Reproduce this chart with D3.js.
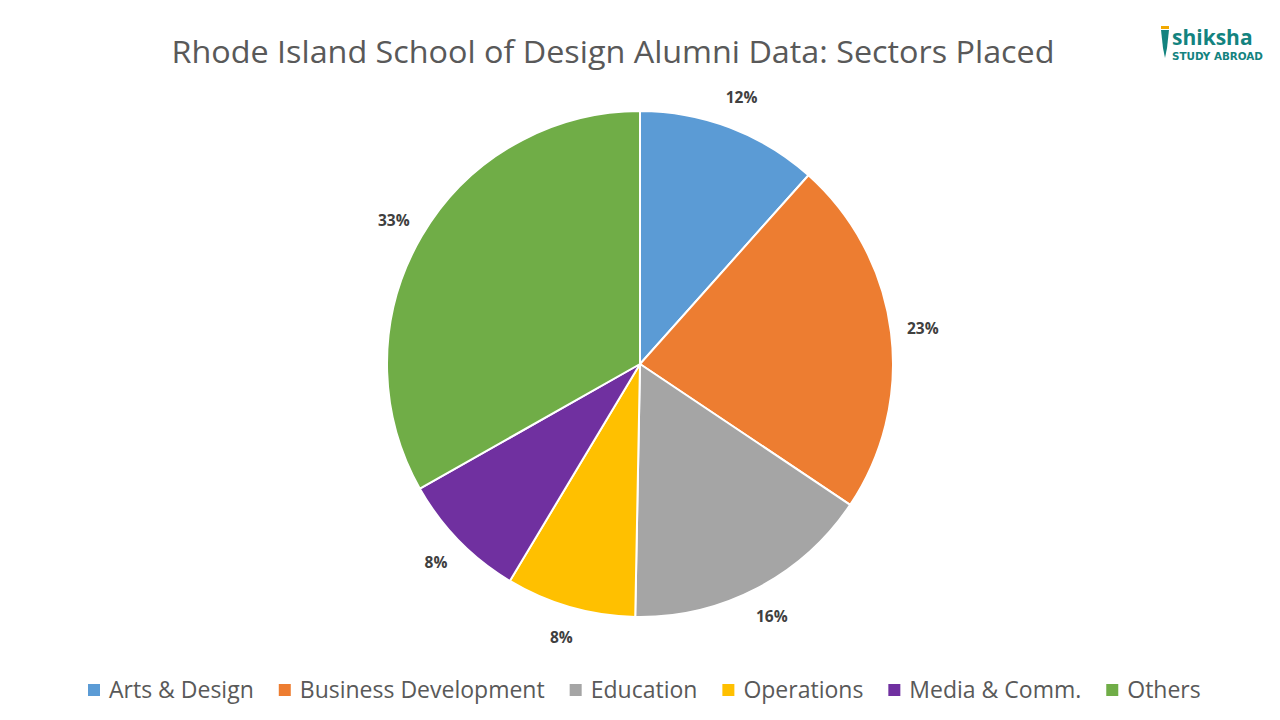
<!DOCTYPE html>
<html><head><meta charset="utf-8">
<script src="https://cdn.jsdelivr.net/npm/d3@7"></script>
<style>body{margin:0;background:#fff}</style>
</head><body><div id="root"></div>
<script>
var categories = ["Arts & Design", "Business Development", "Education", "Operations", "Media & Comm.", "Others"];
var values = [11.6, 22.8, 15.9, 8.3, 8.2, 33.2];
var labels = ["12%", "23%", "16%", "8%", "8%", "33%"];
var colors = ["#5b9bd5", "#ed7d31", "#a5a5a5", "#ffc000", "#7030a0", "#70ad47"];

var svg = d3.select("#root").append("svg").attr("width", 1280).attr("height", 720);
var font = "'Open Sans', sans-serif";

svg.append("text").attr("x", 613).attr("y", 63).attr("text-anchor", "middle")
    .attr("font-family", font).attr("font-size", 31).attr("fill", "#595959")
    .attr("textLength", 883).attr("lengthAdjust", "spacingAndGlyphs")
    .text("Rhode Island School of Design Alumni Data: Sectors Placed");

// logo
svg.append("text").attr("x", 1172).attr("y", 45).attr("font-family", font)
    .attr("font-weight", "bold").attr("font-size", 21).attr("fill", "#13837f").text("shiksha");
svg.append("text").attr("x", 1172).attr("y", 60).attr("font-family", "'DejaVu Sans Condensed', sans-serif")
    .attr("font-weight", "bold").attr("font-size", 11).attr("fill", "#13837f")
    .attr("textLength", 91).attr("lengthAdjust", "spacingAndGlyphs").text("STUDY ABROAD");
svg.append("path").attr("d", "M1161,30 L1169,30 L1167,48 L1165,58 L1163,48 Z").attr("fill", "#13837f");
svg.append("rect").attr("x", 1161).attr("y", 26).attr("width", 8).attr("height", 3).attr("fill", "#f2a900");

var cx = 640, cy = 364, r = 253;
var pie = d3.pie().sort(null).value(function(d){ return d; });
var arcs = pie(values);
var arc = d3.arc().innerRadius(0).outerRadius(r);
var labelArc = d3.arc().innerRadius(285).outerRadius(285);
var g = svg.append("g").attr("transform", "translate(" + cx + "," + cy + ")");
g.selectAll("path").data(arcs).enter().append("path")
    .attr("d", arc).attr("fill", function(d, i){ return colors[i]; })
    .attr("stroke", "#fff").attr("stroke-width", 2);
g.selectAll("text").data(arcs).enter().append("text")
    .attr("transform", function(d){ return "translate(" + labelArc.centroid(d) + ")"; })
    .attr("text-anchor", "middle").attr("dy", "0.35em")
    .attr("font-family", font).attr("font-weight", "bold").attr("font-size", 15.5).attr("fill", "#404040")
    .text(function(d, i){ return labels[i]; });

// legend
var legend = svg.append("g");
var x = 88;
categories.forEach(function(c, i){
    var it = legend.append("g").attr("transform", "translate(" + x + ",0)");
    it.append("rect").attr("x", 0).attr("y", 684).attr("width", 12).attr("height", 12).attr("fill", colors[i]);
    var t = it.append("text").attr("x", 21).attr("y", 698).attr("font-family", font)
        .attr("font-size", 23).attr("fill", "#595959").text(c);
    x += 21 + t.node().getComputedTextLength() + 25;
});
</script></body></html>
